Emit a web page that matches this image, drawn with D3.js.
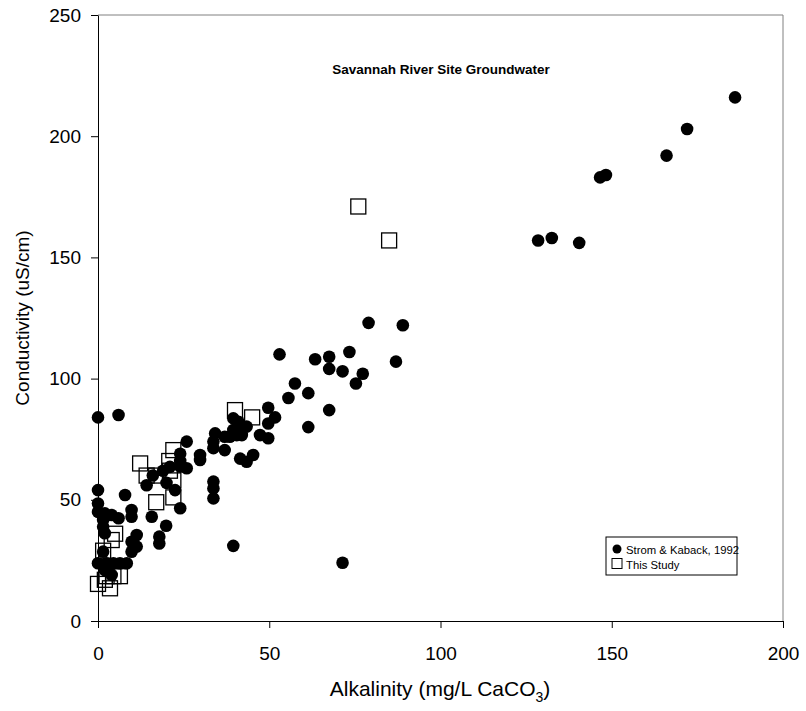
<!DOCTYPE html>
<html>
<head>
<meta charset="utf-8">
<script src="https://d3js.org/d3.v7.min.js"></script>
<style>
  body { margin: 0; background: #fff; }
  text { font-family: "Liberation Sans", Arial, sans-serif; }
</style>
</head>
<body>
<script>
// Strom & Kaback, 1992 : [alkalinity, conductivity]
var stromData = [
  [186,216],[172,203],[166,192],[148.3,184],[146.6,183],[128.5,157],[132.5,158],[140.5,156],
  [89,122],[79,123],[87,107],[73.4,111],[67.5,109],[63.4,108],[67.5,104],[71.4,103],[77.3,102],
  [75.3,98],[61.4,94],[67.5,87],[61.4,80],[57.5,98],[55.6,92],[53,110],
  [71.4,24],[39.5,31],
  [49.7,88],[51.7,84],[49.7,81.5],[47.3,76.7],[49.7,75.4],
  [39.5,83.6],[41,82.2],[42,80.2],[43.4,80.2],[39.5,78.8],[40.5,76.7],[38.5,76],[37,76],[42,76.7],
  [34.2,77.4],[33.7,74],[33.7,71.3],[37,70.5],[41.5,67],[43.4,65.7],[45.3,68.5],
  [33.7,57.5],[33.7,54.7],[33.7,50.6],
  [29.8,68.5],[29.8,66.4],[25.9,74],[24,63.7],[25.9,63],[24,66],[21,63.6],[19,62],[16,60],[24,69],
  [14.2,56],[20,57],[22.5,54],[24,46.5],
  [0,84],[6,85],[0,54],[7.9,52],[0,48.5],[0,45],[2,44.4],[4,43.7],[6,42.4],[9.8,45.8],[9.8,43],
  [15.7,43],[19.9,39.3],
  [11.3,35.5],[9.8,32.7],[11.3,30.7],[9.8,28.6],[17.9,34.8],[17.9,32],
  [1.5,41.7],[1.5,38.9],[2,36.2],[1.5,28.6],
  [0,23.8],[2.5,23.8],[4.5,23.8],[6.4,23.8],[8.4,23.8],[2,21],[4,19]
];

// This Study
var studyData = [
  [76,171],[85,157],[40,87],[45,84],[22,70.5],[20.8,66],[12.3,65],[14.2,60],[17,60],[21,62],
  [17,49],[22,51],[22,58],[5,36],[4,33.4],[1.5,29],[4.5,18.5],[6.4,18.5],[2.5,18.5],[2,17],
  [0,15.3],[3.5,13.5]
];

var xTicks = [0, 50, 100, 150, 200];
var yTicks = [0, 50, 100, 150, 200, 250];
var legendLabels = ["Strom & Kaback, 1992", "This Study"];

var width = 806, height = 711;
var mLeft = 98, mRight = 783, mTop = 15, mBottom = 621;

var svg = d3.select('body').append('svg')
  .attr('width', width)
  .attr('height', height);

var x = d3.scaleLinear().domain([0, 200]).range([mLeft, mRight]);
var y = d3.scaleLinear().domain([0, 250]).range([mBottom, mTop]);

// frame top / right
svg.append('path')
  .attr('d', `M${mLeft},${mTop}H${mRight}V${mBottom}`)
  .attr('fill', 'none')
  .attr('stroke', '#808080')
  .attr('stroke-width', 1);

var xAxis = d3.axisBottom(x).tickValues(xTicks).tickSize(7).tickPadding(19).tickSizeOuter(0);
var yAxis = d3.axisLeft(y).tickValues(yTicks).tickSize(7).tickPadding(10).tickSizeOuter(0);

var gx = svg.append('g')
  .attr('transform', `translate(0,${mBottom})`)
  .call(xAxis);
var gy = svg.append('g')
  .attr('transform', `translate(${mLeft},0)`)
  .call(yAxis);

[gx, gy].forEach(function(g) {
  g.selectAll('path, line').attr('stroke', '#000');
  g.selectAll('text')
    .attr('fill', '#000')
    .style('font-family', '"Liberation Sans", Arial, sans-serif')
    .style('font-size', '19px');
});

// squares first, circles on top
var sq = 15;
svg.append('g').selectAll('rect')
  .data(studyData)
  .enter().append('rect')
  .attr('x', function(d) { return x(d[0]) - sq / 2; })
  .attr('y', function(d) { return y(d[1]) - sq / 2; })
  .attr('width', sq)
  .attr('height', sq)
  .attr('fill', 'none')
  .attr('stroke', '#000')
  .attr('stroke-width', 1.3);

svg.append('g').selectAll('circle')
  .data(stromData)
  .enter().append('circle')
  .attr('cx', function(d) { return x(d[0]); })
  .attr('cy', function(d) { return y(d[1]); })
  .attr('r', 6.3)
  .attr('fill', '#000');

// title
svg.append('text')
  .attr('x', 441)
  .attr('y', 74)
  .attr('text-anchor', 'middle')
  .style('font-size', '13.5px')
  .style('font-weight', 'bold')
  .text('Savannah River Site Groundwater');

// axis titles
var xl = svg.append('text')
  .attr('x', 440)
  .attr('y', 696)
  .attr('text-anchor', 'middle')
  .style('font-size', '21px');
xl.append('tspan').text('Alkalinity (mg/L CaCO');
xl.append('tspan').attr('dy', 6).style('font-size', '14px').text('3');
xl.append('tspan').attr('dy', -6).text(')');

svg.append('text')
  .attr('transform', 'translate(29,318) rotate(-90)')
  .attr('text-anchor', 'middle')
  .style('font-size', '19px')
  .text('Conductivity (uS/cm)');

// legend
var lg = svg.append('g').attr('transform', 'translate(606,537)');
lg.append('rect')
  .attr('width', 131)
  .attr('height', 38)
  .attr('fill', '#fff')
  .attr('stroke', '#000')
  .attr('stroke-width', 1);
lg.append('circle').attr('cx', 11).attr('cy', 12).attr('r', 4.5).attr('fill', '#000');
lg.append('rect').attr('x', 6).attr('y', 21.5).attr('width', 10).attr('height', 10)
  .attr('fill', 'none').attr('stroke', '#000').attr('stroke-width', 1);
lg.selectAll('text.lab')
  .data(legendLabels)
  .enter().append('text')
  .attr('class', 'lab')
  .attr('x', 20)
  .attr('y', function(d, i) { return 16.5 + i * 15; })
  .style('font-size', '11.3px')
  .text(function(d) { return d; });
</script>
</body>
</html>
